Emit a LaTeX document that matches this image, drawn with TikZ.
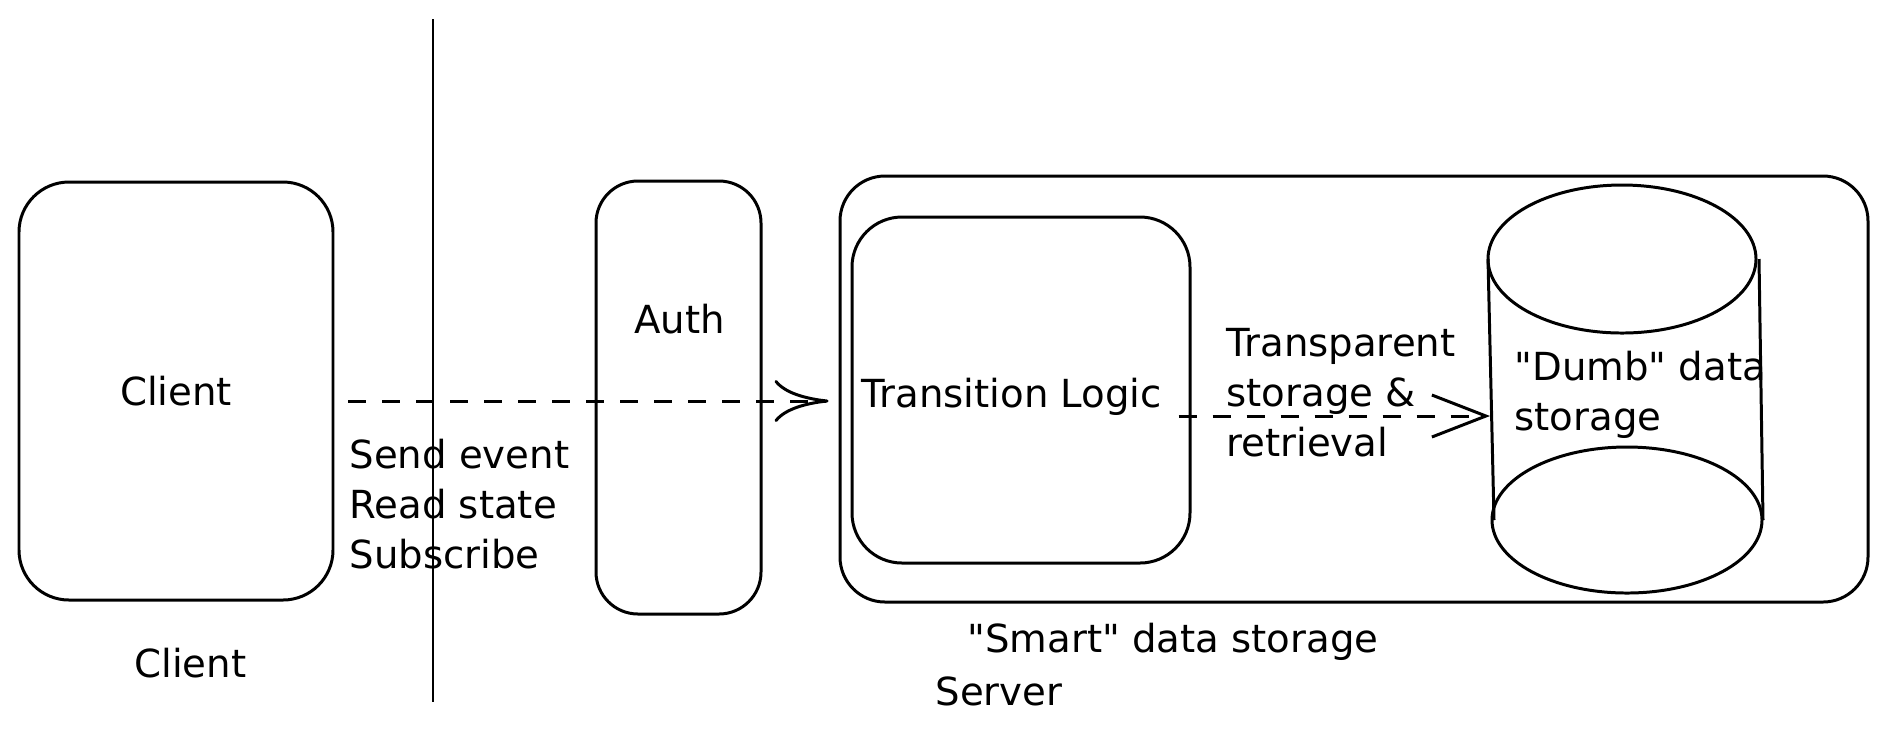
\documentclass[tikz,border=0pt]{standalone}
\usepackage{fontspec}
\newfontfamily\sketchfont{DejaVu Sans}
\usetikzlibrary{arrows.meta}

\begin{document}
\begin{tikzpicture}[
   x=0.1mm,
   y=-0.1mm,
   font=\sketchfont\fontsize{11pt}{14.2pt}\selectfont,
   line width=0.85pt,
   block/.style={
      draw,
      rectangle,
      inner sep=0pt
   },
   txt/.style={
      anchor=base west,
      inner sep=0pt,
      align=left
   },
   flow/.style={
      dash pattern=on 1.8mm off 1.6mm
   }
]

   \useasboundingbox (0,0) rectangle (1889,740);

   % Client
   \node[
      block,
      rounded corners=5mm,
      minimum width=31.4mm,
      minimum height=41.8mm
   ] (client) at (176,391)
   {
      Client
   };

   \node[txt] (clientname) at (133,677) {Client};

   % Boundary between client and server
   \draw (433,19) -- (433,702);

   % Auth
   \node[
      block,
      rounded corners=4.2mm,
      minimum width=16.5mm,
      minimum height=43.3mm
   ] (auth) at (678.5,397.5) {};

   \node[txt] (authname) at (633,333) {Auth};

   % Smart data storage
   \node[
      block,
      rounded corners=4.5mm,
      minimum width=102.8mm,
      minimum height=42.6mm
   ] (server) at (1354,389) {};

   \node[txt] (smartname) at (966,652) {"Smart" data storage};
   \node[txt] (servername) at (934,705) {Server};

   % Transition logic
   \node[
      block,
      rounded corners=5mm,
      minimum width=33.8mm,
      minimum height=34.6mm
   ] (logic) at (1021,390) {};

   \node[txt] (logicname) at (860,407) {Transition Logic};

   % Dumb data storage
   \coordinate (storetop) at (1622,259);
   \coordinate (storebot) at (1627,520);
   \coordinate (storein) at (1490,416);

   \draw (storetop) ellipse [x radius=134, y radius=74];
   \draw (storebot) ellipse [x radius=135, y radius=73];
   \draw ([shift={(-134,0)}]storetop) -- ([shift={(-133,0)}]storebot);
   \draw ([shift={(137,0)}]storetop) -- ([shift={(136,0)}]storebot);

   % (base of a multi-line node is its last line)
   \node[txt] (dumbname) at (1513,430) {"Dumb" data\\storage};

   % Requests from the client
   \draw[
      flow,
      -{Computer Modern Rightarrow[length=5.4mm, width=4.2mm]}
   ] ([shift={(14,10)}]client.east) -- ([shift={(-10,12)}]server.west);

   \node[txt] (requests) at (348,568) {Send event\\Read state\\Subscribe};

   % Storage access
   \draw[
      flow,
      -{Straight Barb[length=5.4mm, width=4.2mm]}
   ] ([shift={(-13,26)}]logic.east) -- (storein);

   \node[txt] (access) at (1225,456) {Transparent\\storage \&\\retrieval};

\end{tikzpicture}
\end{document}
